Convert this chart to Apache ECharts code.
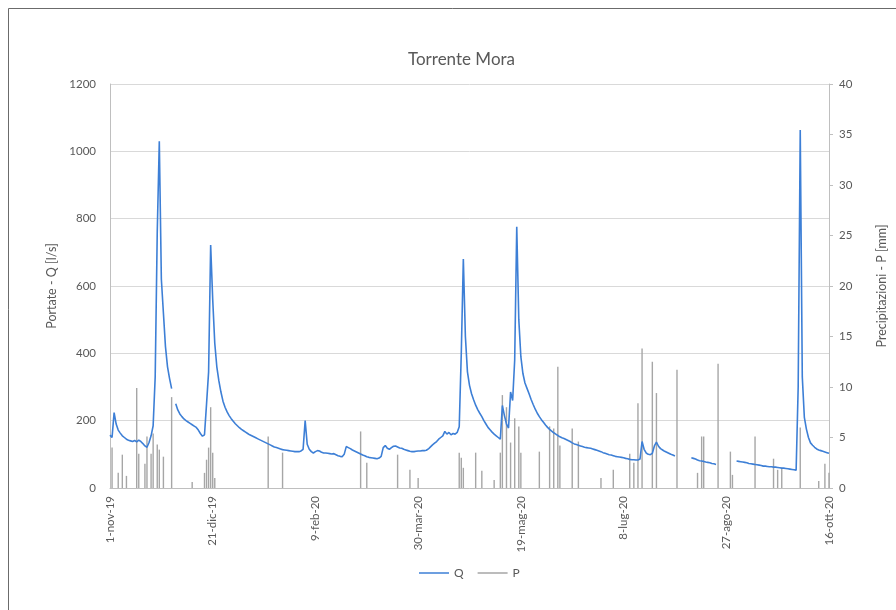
<!DOCTYPE html>
<html>
<head>
<meta charset="utf-8">
<script src="https://cdn.jsdelivr.net/npm/echarts@6/dist/echarts.min.js"></script>
<style>html,body{margin:0;padding:0;background:#fff;}#c{width:896px;height:610px;}</style>
</head>
<body>
<div id="c"></div>
<script>
// Daily series from 1-nov-2019 (day 0) to 16-ott-2020 (day 350)
const startDate = [2019, 10, 1];
const monthNames = ['gen','feb','mar','apr','mag','giu','lug','ago','set','ott','nov','dic'];
const tickEvery = 50;
const chartTitle = 'Torrente Mora';
const seriesNames = ['Q', 'P'];

// Portate - Q [l/s]
const qValues = [
157,150,224,190,172,163,155,150,145,142,
140,138,141,137,142,138,132,125,121,135,
155,185,330,760,1030,620,520,420,360,325,
295,null,250,232,220,212,205,200,196,192,
188,184,180,172,162,154,158,250,345,722,
560,430,360,318,285,258,240,226,215,206,
198,191,185,179,174,170,166,162,158,155,
152,149,146,143,140,137,134,131,128,125,
122,120,118,116,114,113,112,111,110,109,
108,108,108,110,115,200,130,115,108,104,
108,111,110,106,104,104,103,102,101,102,
99,96,94,93,100,123,120,117,113,110,
107,104,101,98,96,93,91,90,89,88,
87,89,94,120,126,118,115,120,124,125,
122,119,118,115,113,111,109,108,108,109,
110,110,111,111,112,116,122,128,133,138,
145,150,155,168,160,165,158,162,160,165,
182,400,680,450,345,305,280,262,246,233,
222,212,200,190,180,173,166,160,155,150,
145,245,215,190,178,285,260,380,776,500,
390,340,312,296,280,263,248,234,222,212,
203,195,187,180,174,169,164,160,156,152,
149,147,144,141,138,134,131,129,127,125,
123,121,120,119,118,116,114,112,110,108,
105,103,101,99,98,96,94,93,92,91,
90,88,87,85,84,84,83,83,86,138,
115,104,100,99,103,125,136,124,117,113,
109,106,103,100,98,95,null,null,null,null,
null,null,null,90,88,86,83,81,80,79,
77,76,75,73,72,70,null,null,null,null,
null,null,null,null,null,80,79,78,77,76,
75,73,72,71,70,69,68,67,65,65,
64,63,63,62,62,61,60,59,59,58,
57,56,55,54,53,300,1063,330,210,175,
150,134,127,121,116,113,111,109,107,105,
103
];

// Precipitazioni - P [mm]
const pValues = [
0,4.0,0,0,1.5,0,3.3,0,1.2,0,
0,0,0,9.9,3.4,0,0,2.4,5.1,0,
3.4,5.4,0,4.3,3.8,0,3.1,0,0,0,
9.0,0,0,0,0,0,0,0,0,0,
0.6,0,0,0,0,0,1.5,2.8,4.0,8.0,
3.5,1.0,0,0,0,0,0,0,0,0,
0,0,0,0,0,0,0,0,0,0,
0,0,0,0,0,0,0,5.1,0,0,
0,0,0,0,3.5,0,0,0,0,0,
0,0,0,0,0,0,0,0,0,0,
0,0,0,0,0,0,0,0,0,0,
0,0,0,0,0,0,0,0,0,0,
0,0,5.6,0,0,2.5,0,0,0,0,
0,0,0,0,0,0,0,0,0,0,
3.3,0,0,0,0,0,1.8,0,0,0,
1.0,0,0,0,0,0,0,0,0,0,
0,0,0,0,0,0,0,0,0,0,
3.5,3.0,2.0,0,0,0,0,0,3.5,0,
0,1.7,0,0,0,0,0,0.8,0,0,
3.5,9.2,0,8.0,0,4.5,0,6.9,0,6.1,
3.5,0,0,0,0,0,0,0,0,3.6,
0,0,0,0,6.1,0,5.9,0,12.0,4.2,
0,0,0,0,0,5.9,0,0,4.6,0,
0,0,0,0,0,0,0,0,0,1.0,
0,0,0,0,0,1.8,0,0,0,0,
0,0,0,3.4,0,2.5,0,8.4,0,13.8,
0,0,0,0,12.5,0,9.4,0,0,0,
0,0,0,0,0,0,11.7,0,0,0,
0,0,0,0,0,0,1.5,0,5.1,5.1,
0,0,0,0,0,0,12.3,0,0,0,
0,0,3.6,1.3,0,0,0,0,0,0,
0,0,0,0,5.1,0,0,0,0,0,
0,0,0,2.9,0,1.8,0,2.0,0,0,
0,0,0,0,0,0,6.0,0,0,0,
0,0,0,0,0,0.7,0,0,2.4,0,
1.5
];

const categories = qValues.map((_, i) => {
  const d = new Date(Date.UTC(startDate[0], startDate[1], startDate[2] + i));
  return d.getUTCDate() + '-' + monthNames[d.getUTCMonth()] + '-' + String(d.getUTCFullYear()).slice(2);
});

const txt = '#595959';
const font = 'Lato, "Open Sans", sans-serif';
const chart = echarts.init(document.getElementById('c'), null, {renderer: 'canvas'});
chart.setOption({
  animation: false,
  backgroundColor: '#fff',
  textStyle: {fontFamily: font},
  title: {
    text: chartTitle, left: 403, top: 46,
    textStyle: {fontFamily: font, fontSize: 17, fontWeight: 'normal', color: txt}
  },
  graphic: [{
    type: 'rect', shape: {x: 8.5, y: 8.5, width: 900, height: 620},
    style: {fill: 'none', stroke: '#6b6b6b', lineWidth: 1}, silent: true
  }],
  legend: {
    data: seriesNames, bottom: 26, left: 414, icon: 'rect',
    itemWidth: 30, itemHeight: 1.5, itemGap: 14,
    textStyle: {fontFamily: font, fontSize: 12, color: txt}
  },
  grid: {left: 110, right: 63, top: 84, bottom: 122, containLabel: false},
  xAxis: {
    type: 'category', data: categories, boundaryGap: false,
    axisLine: {lineStyle: {color: '#bfbfbf'}},
    axisTick: {show: false},
    axisLabel: {
      interval: tickEvery - 1, rotate: 90, color: txt, fontSize: 11.5,
      fontFamily: font, margin: 8
    },
    splitLine: {show: false}
  },
  yAxis: [{
    type: 'value', min: 0, max: 1200, interval: 200,
    name: 'Portate - Q [l/s]', nameLocation: 'middle', nameGap: 51, nameRotate: 90,
    nameTextStyle: {color: txt, fontSize: 12.5, fontFamily: font},
    axisLine: {show: true, lineStyle: {color: '#bfbfbf'}},
    axisTick: {show: false},
    axisLabel: {color: txt, fontSize: 11.5, fontFamily: font, margin: 14, formatter: v => String(v)},
    splitLine: {lineStyle: {color: '#d9d9d9'}}
  }, {
    type: 'value', min: 0, max: 40, interval: 5, position: 'right',
    name: 'Precipitazioni - P [mm]', nameLocation: 'middle', nameGap: 46, nameRotate: 90,
    nameTextStyle: {color: txt, fontSize: 12.5, fontFamily: font},
    axisLine: {show: true, lineStyle: {color: '#bfbfbf'}},
    axisTick: {show: true, length: 4, lineStyle: {color: '#bfbfbf'}},
    axisLabel: {color: txt, fontSize: 11.5, fontFamily: font, margin: 10, formatter: v => String(v)},
    splitLine: {show: false}
  }],
  series: [{
    name: 'P', type: 'bar', yAxisIndex: 1, data: pValues,
    barWidth: 1.4,
    itemStyle: {color: '#a6a6a6'},
    z: 2
  }, {
    name: 'Q', type: 'line', yAxisIndex: 0, data: qValues,
    showSymbol: false, symbol: 'none', connectNulls: false,
    lineStyle: {color: '#3d7fd6', width: 1.6}, itemStyle: {color: '#3d7fd6'},
    z: 3
  }]
});
</script>
</body>
</html>
